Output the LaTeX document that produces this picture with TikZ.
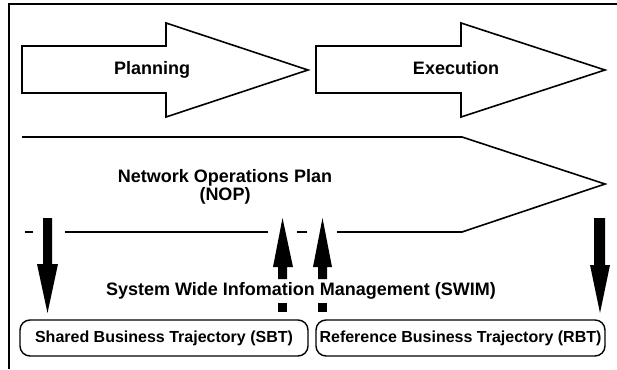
\documentclass[tikz,border=0pt]{standalone}
\usepackage{fontspec}
\setmainfont{Liberation Sans}
\usetikzlibrary{positioning}

\begin{document}
\begin{tikzpicture}[x=1pt,y=-1pt,
    outline/.style={draw=black,line width=1.6pt,line join=miter},
    fatarrow/.style={fill=black},
    bigtext/.style={font=\fontsize{18}{21}\selectfont\bfseries,anchor=base,inner sep=0pt},
    trajbox/.style={draw=black,line width=1.4pt,rounded corners=10pt,
        minimum height=36pt,inner sep=0pt,font=\fontsize{16}{19}\selectfont\bfseries}]
    \useasboundingbox (0,0) rectangle (617,369);
    % frame
    \draw[line width=2pt] (9,369) -- (9,4) -- (617,4);
    % planning and execution
    \draw[outline] (22,46) -- (166,46) -- (166,23) -- (308,70) -- (166,117) -- (166,93) -- (22,93) -- cycle;
    \draw[outline] (316,46) -- (461,46) -- (461,23) -- (605,70) -- (461,117) -- (461,93) -- (316,93) -- cycle;
    \node[bigtext] (plan) at (152,74) {Planning};
    \node[bigtext] (exec) at (456,74) {Execution};
    % network operations plan
    \draw[outline] (22,137) -- (462,137) -- (605,184) -- (462,232) -- (337,232);
    \draw[outline] (307,232) -- (297,232);
    \draw[outline] (268,232) -- (65,232);
    \draw[outline] (33,232) -- (25,232);
    \node[bigtext] (nop) at (225,182) {Network Operations Plan};
    \node[bigtext,below=5pt of nop.base] (nopshort) {(NOP)};
    % swim
    \node[bigtext] (swim) at (301,295) {System Wide Infomation Management (SWIM)};
    % trajectories
    \node[trajbox,minimum width=288pt] (sbt) at (164,338) {Shared Business Trajectory (SBT)};
    \node[trajbox,minimum width=289pt] (rbt) at (460.5,338) {Reference Business Trajectory (RBT)};
    % down arrows
    \fill[fatarrow] (43,218) -- (52,218) -- (52,264) -- (58,264) -- (47.5,313) -- (37,264) -- (43,264) -- cycle;
    \fill[fatarrow] (594,218) -- (605,218) -- (605,265) -- (610,265) -- (600,313) -- (590,265) -- (594,265) -- cycle;
    % up arrows
    \fill[fatarrow] (282.5,218) -- (293,267) -- (287,267) -- (287,279) -- (278,279) -- (278,267) -- (273,267) -- cycle;
    \fill[fatarrow] (278,303) rectangle (287,312);
    \fill[fatarrow] (322.5,218) -- (332,267) -- (327,267) -- (327,279) -- (318,279) -- (318,267) -- (313,267) -- cycle;
    \fill[fatarrow] (318,303) rectangle (327,312);
\end{tikzpicture}
\end{document}
